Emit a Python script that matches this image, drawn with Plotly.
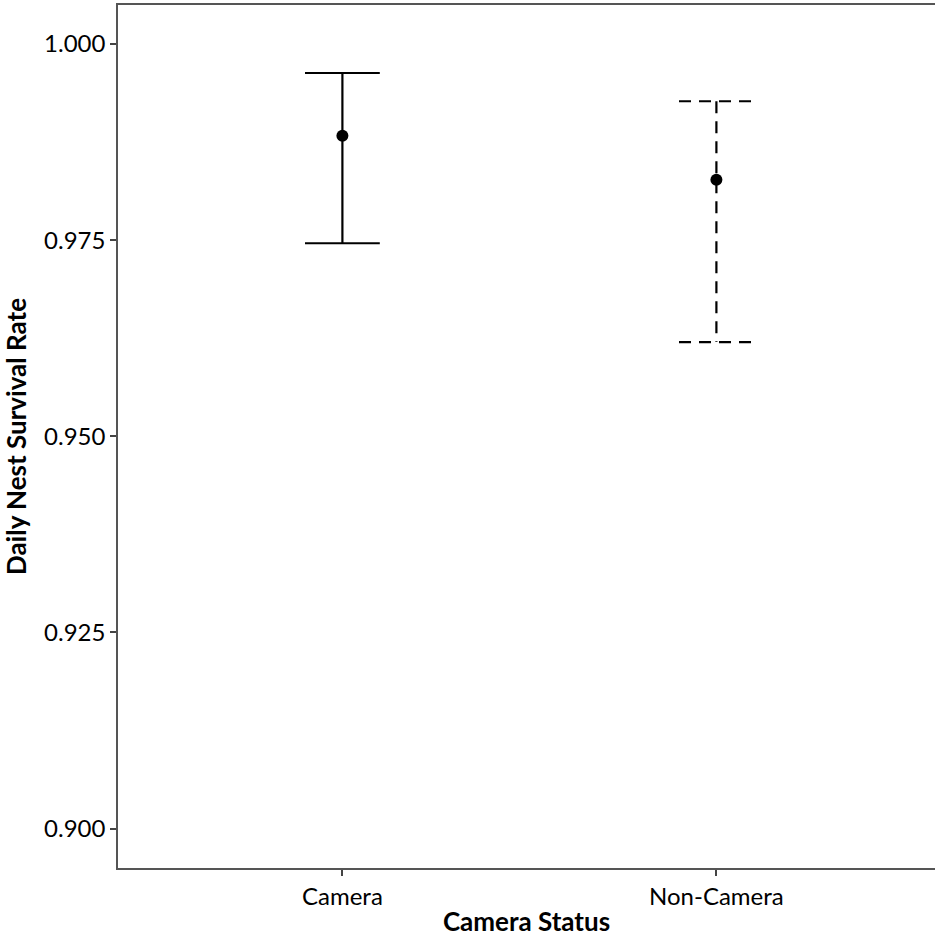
import plotly.graph_objects as go

categories = ["Camera", "Non-Camera"]
estimate = [0.9883, 0.9827]
lower = [0.9746, 0.9620]
upper = [0.9963, 0.9927]
dash_styles = ["solid", "12px,8px"]

y_ticks = [0.900, 0.925, 0.950, 0.975, 1.000]

cap_half = 0.1
fig = go.Figure()
for i, cat in enumerate(categories):
    xpos = i + 1
    xs = [xpos - cap_half, xpos + cap_half, None, xpos, xpos, None, xpos - cap_half, xpos + cap_half]
    ys = [upper[i], upper[i], None, upper[i], lower[i], None, lower[i], lower[i]]
    fig.add_trace(go.Scatter(x=xs, y=ys, mode="lines",
                             line=dict(color="black", width=2.2, dash=dash_styles[i]),
                             showlegend=False, hoverinfo="skip"))
    fig.add_trace(go.Scatter(x=[xpos], y=[estimate[i]], mode="markers",
                             marker=dict(color="black", size=12),
                             showlegend=False, name=cat))

font_family = "Lato, 'Open Sans', sans-serif"
fig.update_layout(
    width=935, height=938,
    margin=dict(l=118, r=0, t=5, b=70),
    plot_bgcolor="white", paper_bgcolor="white",
    font=dict(family=font_family, size=24, color="black"),
    xaxis=dict(range=[0.4, 0.4 + 817 / 374], tickvals=[1, 2], ticktext=categories,
               showgrid=False, zeroline=False, showline=True, mirror=True,
               linecolor="#555555", linewidth=1.5, ticks="outside", ticklen=6,
               tickcolor="#444444", tickwidth=1.5,
               tickfont=dict(size=24, color="black"),
               title=dict(text="<b>Camera Status</b>", font=dict(size=26), standoff=4)),
    yaxis=dict(range=[0.89497, 1.00497], tickvals=y_ticks, tickformat=".3f",
               showgrid=False, zeroline=False, showline=True, mirror=False,
               linecolor="#555555", linewidth=1.5, ticks="outside", ticklen=6,
               tickcolor="#444444", tickwidth=1.5,
               tickfont=dict(size=24, color="black"),
               title=dict(text="<b>Daily Nest Survival Rate</b>", font=dict(size=26), standoff=10)),
)

fig.write_html("out.html", config={"displayModeBar": False},
               post_script="document.body.style.margin='0px';document.body.style.overflow='hidden';")
